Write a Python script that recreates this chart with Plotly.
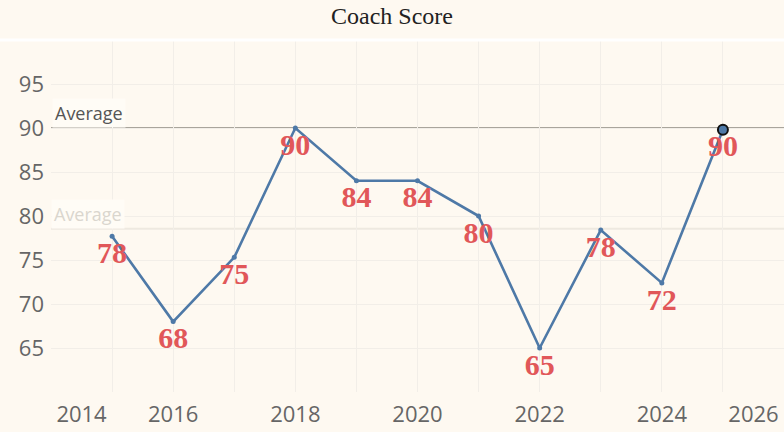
import plotly.graph_objects as go

years = [2015, 2016, 2017, 2018, 2019, 2020, 2021, 2022, 2023, 2024, 2025]
scores = [78, 68, 75, 90, 84, 84, 80, 65, 78, 72, 90]
score_positions = [77.7, 68.0, 75.3, 90.0, 84.0, 84.0, 80.0, 65.0, 78.4, 72.4, 89.8]
x_tick_vals = [2014.5, 2016, 2018, 2020, 2022, 2024, 2025.5]
x_tick_text = ["2014", "2016", "2018", "2020", "2022", "2024", "2026"]
y_tick_vals = [65, 70, 75, 80, 85, 90, 95]
target_line = 90
average_line = sum(scores) / len(scores)

bg = "#FEF9F1"
fig = go.Figure()

fig.add_trace(go.Scatter(
    x=years, y=score_positions, mode="lines+markers+text",
    line=dict(color="#4E79A7", width=2.6),
    marker=dict(size=5, color="#4E79A7"),
    text=[str(s) for s in scores],
    textposition="bottom center",
    textfont=dict(family="Liberation Serif", size=30, color="#E15759", weight="bold"),
    cliponaxis=False,
    hoverinfo="skip",
))
# highlighted last point
fig.add_trace(go.Scatter(
    x=years[-1:], y=score_positions[-1:], mode="markers",
    marker=dict(size=10, color="#4E79A7", line=dict(color="#111111", width=2)),
    hoverinfo="skip", cliponaxis=False,
))

fig.add_hline(y=target_line, line=dict(color="#A9A59C", width=2), layer="below")
fig.add_hline(y=average_line, line=dict(color="#EEE9E0", width=2), layer="below")

fig.add_annotation(x=0, xref="paper", y=target_line, yref="y", text="Average",
                   showarrow=False, xanchor="left", yanchor="bottom", yshift=0, xshift=1,
                   borderpad=2,
                   bgcolor="#FFFCF6", font=dict(family="Open Sans", size=18, color="#555555"))
fig.add_annotation(x=0, xref="paper", y=average_line, yref="y", text="Average",
                   showarrow=False, xanchor="left", yanchor="bottom", yshift=0, xshift=0,
                   borderpad=2,
                   bgcolor="#FFFCF6", font=dict(family="Open Sans", size=18, color="#DAD6CE"))

fig.add_shape(type="line", xref="paper", yref="paper", x0=-0.1, x1=1, y0=1, y1=1,
              line=dict(color="#FFFFFF", width=3))

fig.update_layout(
    width=784, height=432,
    margin=dict(l=51, r=0, t=40, b=40, autoexpand=False),
    paper_bgcolor=bg, plot_bgcolor=bg,
    showlegend=False,
    title=dict(text="Coach Score", x=0.5, xanchor="center", y=0.963, yanchor="middle",
               font=dict(family="Liberation Serif", size=24, color="#222222"),
               automargin=False),
    xaxis=dict(range=[2014, 2026], tickvals=x_tick_vals, ticktext=x_tick_text,
               showgrid=False, zeroline=False, showline=False, ticks="", automargin=False,
               ticklabelstandoff=7,
               tickfont=dict(family="Open Sans", size=22, color="#666666"),
               minor=dict(tick0=2014, dtick=1, showgrid=True, gridcolor="#F2EEE8", gridwidth=1),
               fixedrange=True),
    yaxis=dict(range=[60, 100], tickvals=y_tick_vals, showgrid=True, gridcolor="#F2EEE8",
               zeroline=False, showline=False, ticks="", ticklabelstandoff=6, automargin=False,
               tickfont=dict(family="Open Sans", size=22, color="#666666"),
               fixedrange=True),
)
fig.write_html("out.html", config={"displayModeBar": False},
               post_script="document.body.style.margin='0';document.body.style.overflow='hidden';")
